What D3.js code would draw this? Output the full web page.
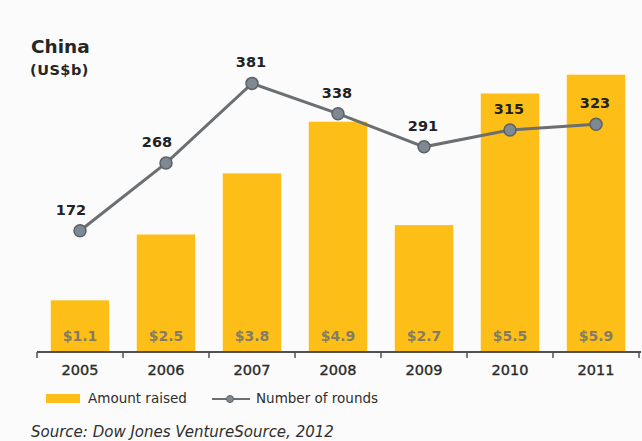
<!DOCTYPE html>
<html>
<head>
<meta charset="utf-8">
<script src="https://cdn.jsdelivr.net/npm/d3@7"></script>
<style>
  html, body { margin: 0; padding: 0; background: #fbfbfb; }
  svg { display: block; font-family: "DejaVu Sans", Verdana, sans-serif; }
</style>
</head>
<body>
<svg id="chart" width="642" height="441"></svg>
<script>
// Venture capital in China: amount raised (US$b) and number of rounds
const years = ["2005", "2006", "2007", "2008", "2009", "2010", "2011"];
const amountRaised = [1.1, 2.5, 3.8, 4.9, 2.7, 5.5, 5.9];
const numberOfRounds = [172, 268, 381, 338, 291, 315, 323];
const legendLabels = ["Amount raised", "Number of rounds"];

const barColor = "#fdbf17";
const lineColor = "#6b6f72";

const svg = d3.select("#chart");

const x = d3.scaleBand()
  .domain(years)
  .range([37, 639])
  .paddingInner(0.32)
  .paddingOuter(0.16);

const yAmount = d3.scaleLinear().domain([0, 6]).range([352, 70]);
const yRounds = d3.scaleLinear().domain([0, 400]).range([352, 70]);

// Title
svg.append("text")
  .attr("x", 31).attr("y", 53)
  .attr("font-size", 18.5).attr("font-weight", "bold")
  .attr("fill", "#262626")
  .text("China");
svg.append("text")
  .attr("x", 30).attr("y", 75)
  .attr("font-size", 14.5).attr("font-weight", "bold")
  .attr("letter-spacing", 0.5)
  .attr("fill", "#262626")
  .text("(US$b)");

const rows = years.map((yr, i) => ({ year: yr, amount: amountRaised[i], rounds: numberOfRounds[i] }));

// Bars
svg.append("g").selectAll("rect")
  .data(rows)
  .join("rect")
  .attr("x", d => x(d.year))
  .attr("width", x.bandwidth())
  .attr("y", d => yAmount(d.amount))
  .attr("height", d => yAmount(0) - yAmount(d.amount))
  .attr("fill", barColor);

// Amount labels inside bars near the base
svg.append("g").selectAll("text")
  .data(rows)
  .join("text")
  .attr("x", d => x(d.year) + x.bandwidth() / 2)
  .attr("y", 341)
  .attr("text-anchor", "middle")
  .attr("font-size", 14)
  .attr("font-weight", "bold")
  .attr("fill", "#857b63")
  .text(d => "$" + d.amount.toFixed(1));

// Category axis
const axisY = yAmount(0);
const half = x.step() * x.paddingInner() / 2;
const axis = svg.append("g");
axis.append("line")
  .attr("x1", 37).attr("x2", 641)
  .attr("y1", axisY).attr("y2", axisY)
  .attr("stroke", "#505050").attr("stroke-width", 2);
const boundaries = years.map(yr => x(yr) - half).concat([x(years[years.length - 1]) + x.bandwidth() + half]);
axis.selectAll("line.tick")
  .data(boundaries)
  .join("line")
  .attr("class", "tick")
  .attr("x1", d => d).attr("x2", d => d)
  .attr("y1", axisY).attr("y2", axisY + 6)
  .attr("stroke", "#505050").attr("stroke-width", 1.5);
axis.selectAll("text")
  .data(years)
  .join("text")
  .attr("x", d => x(d) + x.bandwidth() / 2)
  .attr("y", 375)
  .attr("text-anchor", "middle")
  .attr("font-size", 14.5)
  .attr("fill", "#2a2a2a")
  .attr("stroke", "#2a2a2a")
  .attr("stroke-width", 0.35)
  .text(d => d);

// Number of rounds line
const cx = d => x(d.year) + x.bandwidth() / 2;
const line = d3.line().x(cx).y(d => yRounds(d.rounds));
svg.append("path")
  .datum(rows)
  .attr("d", line)
  .attr("fill", "none")
  .attr("stroke", lineColor)
  .attr("stroke-width", 3);
svg.append("g").selectAll("circle")
  .data(rows)
  .join("circle")
  .attr("cx", cx)
  .attr("cy", d => yRounds(d.rounds))
  .attr("r", 6)
  .attr("fill", "#7f8992")
  .attr("stroke", "#5c6164")
  .attr("stroke-width", 1.5);

// Round labels; nudge left where the line climbs steeply out of the point
svg.append("g").selectAll("text")
  .data(rows)
  .join("text")
  .attr("x", (d, i) => {
    const next = rows[i + 1];
    const steep = next && next.rounds - d.rounds > 50;
    return cx(d) - (steep ? 9 : 1);
  })
  .attr("y", d => yRounds(d.rounds) - 16)
  .attr("text-anchor", "middle")
  .attr("font-size", 14.5)
  .attr("font-weight", "bold")
  .attr("fill", "#222")
  .text(d => d.rounds);

// Legend
const legend = svg.append("g");
legend.append("rect")
  .attr("x", 46).attr("y", 394).attr("width", 34).attr("height", 9)
  .attr("fill", barColor);
legend.append("text")
  .attr("x", 88).attr("y", 403)
  .attr("font-size", 13.5).attr("fill", "#2e2e2e")
  .text(legendLabels[0]);
legend.append("line")
  .attr("x1", 212).attr("x2", 250).attr("y1", 399).attr("y2", 399)
  .attr("stroke", lineColor).attr("stroke-width", 2);
legend.append("circle")
  .attr("cx", 230).attr("cy", 399).attr("r", 3.5)
  .attr("fill", "#7f8992").attr("stroke", "#5c6164").attr("stroke-width", 1);
legend.append("text")
  .attr("x", 256).attr("y", 403)
  .attr("font-size", 13.5).attr("fill", "#2e2e2e")
  .text(legendLabels[1]);

// Source note
svg.append("text")
  .attr("x", 31).attr("y", 437)
  .attr("font-size", 15)
  .attr("font-style", "italic")
  .attr("fill", "#2e2e2e")
  .text("Source: Dow Jones VentureSource, 2012");
</script>
</body>
</html>
